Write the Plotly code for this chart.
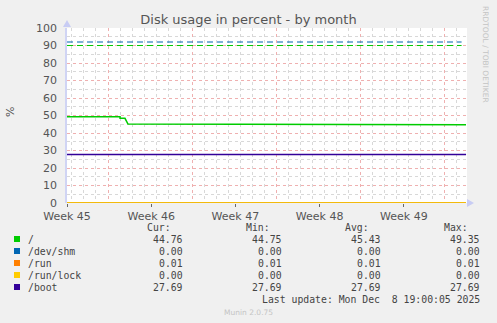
import plotly.graph_objects as go

# ---------------- data ----------------
week_labels = ["Week 45", "Week 46", "Week 47", "Week 48", "Week 49"]
week_pos = [0, 7, 14, 21, 28]          # days from left edge

root_x = [0, 4.41, 4.41, 4.82, 5.07, 7.4, 7.4, 33.17]
root_y = [49.35, 49.35, 48.4, 48.4, 45.1, 45.1, 44.76, 44.76]

flat_x = [0, 33.17]
shm_y = [0.00, 0.00]
run_y = [0.01, 0.01]
runlock_y = [0.00, 0.00]
boot_y = [27.69, 27.69]

warn_x = [0, 32.8]
shm_warn = [92, 92]
root_warn = [90, 90]

names = ["/", "/dev/shm", "/run", "/run/lock", "/boot"]
colors = ["#00CC00", "#0066B3", "#FF8000", "#FFCC00", "#330099"]
cur = ["44.76", "0.00", "0.01", "0.00", "27.69"]
mins = ["44.75", "0.00", "0.01", "0.00", "27.69"]
avgs = ["45.43", "0.00", "0.01", "0.00", "27.69"]
maxs = ["49.35", "0.00", "0.01", "0.00", "27.69"]

# ---------------- layout constants ----------------
W, H = 497, 323
L, R, T, B = 67, 467, 28, 203
XMAX = 33.25

def px(x):
    return (x - L) / (R - L)

def py(y):
    return (B - y) / (B - T)

fig = go.Figure()

# warning lines
fig.add_trace(go.Scatter(x=warn_x, y=shm_warn, mode="lines",
                         line=dict(color="#0066B3", width=1.2, dash="6px,4px"),
                         hoverinfo="skip", showlegend=False))
fig.add_trace(go.Scatter(x=warn_x, y=root_warn, mode="lines",
                         line=dict(color="#00CC00", width=1.2, dash="6px,4px"),
                         hoverinfo="skip", showlegend=False))

series = [(root_x, root_y), (flat_x, shm_y), (flat_x, run_y), (flat_x, runlock_y), (flat_x, boot_y)]
for (xs, ys), c, n in zip(series, colors, names):
    fig.add_trace(go.Scatter(x=xs, y=ys, mode="lines", name=n,
                             line=dict(color=c, width=1.5), showlegend=False,
                             cliponaxis=False))

# invisible trace for label axis
fig.add_trace(go.Scatter(x=[0], y=[0], xaxis="x2", mode="markers",
                         marker=dict(opacity=0), hoverinfo="skip", showlegend=False))

tickfont = dict(family="DejaVu Sans", size=11, color="#555555")
fig.update_layout(
    width=W, height=H,
    margin=dict(l=L, r=W - R, t=T, b=H - B, pad=0),
    paper_bgcolor="#F0F0F0", plot_bgcolor="#FFFFFF",
    title=dict(text="Disk usage in percent - by month", x=0.5, xanchor="center",
               y=1 - 19 / H, yanchor="middle",
               font=dict(family="DejaVu Sans", size=13, color="#555555")),
    xaxis=dict(range=[0, XMAX], tickmode="linear", tick0=3.41, dtick=7,
               showticklabels=False, ticks="",
               showgrid=True, gridcolor="#EFB0B0", griddash="dot", gridwidth=1,
               minor=dict(tickmode="linear", tick0=0.41, dtick=1, showgrid=True,
                          gridcolor="#D8D8D8", griddash="dot", gridwidth=1),
               showline=False, zeroline=False, fixedrange=True),
    xaxis2=dict(range=[0, XMAX], overlaying="x", side="bottom", anchor="y",
                tickmode="array", tickvals=week_pos, ticktext=week_labels,
                tickfont=tickfont, ticks="outside", ticklen=3, tickcolor="#666666",
                showgrid=False, zeroline=False, showline=False),
    yaxis=dict(range=[0, 100], tickmode="linear", tick0=0, dtick=10,
               tickfont=tickfont, ticks="", ticklabelstandoff=6,
               showgrid=True, gridcolor="#EFB0B0", griddash="dot", gridwidth=1,
               minor=dict(tickmode="linear", tick0=0, dtick=5, showgrid=True,
                          gridcolor="#D8D8D8", griddash="dot", gridwidth=1),
               showline=True, linecolor="#D0D4F4", linewidth=1.5,
               zeroline=False, fixedrange=True),
    showlegend=False,
)

ann = []
def note(text, x, y, font, xa="center", ya="middle", angle=0):
    ann.append(dict(text=text, x=px(x), y=py(y), xref="paper", yref="paper",
                    xanchor=xa, yanchor=ya, showarrow=False, textangle=angle,
                    font=font))

grey = dict(family="DejaVu Sans", size=11, color="#555555")
note("%", 10, 112, grey, angle=-90)
note("RRDTOOL / TOBI OETIKER", 486, 54,
     dict(family="DejaVu Sans", size=7.5, color="#C4C4C4"), angle=90)

shapes = []
# axis arrows
arrow_col = "#C8CCF4"
shapes.append(dict(type="path", xref="paper", yref="paper",
                   path=f"M {px(63)} {py(27)} L {px(71)} {py(27)} L {px(67)} {py(20)} Z",
                   fillcolor=arrow_col, line=dict(width=0)))
shapes.append(dict(type="path", xref="paper", yref="paper",
                   path=f"M {px(467)} {py(199)} L {px(467)} {py(207)} L {px(474)} {py(203)} Z",
                   fillcolor=arrow_col, line=dict(width=0)))

mono = dict(family="DejaVu Sans Mono", size=9.8, color="#444444")
for txt, xr in [("Cur:", 173), ("Min:", 272), ("Avg:", 371), ("Max:", 470)]:
    note(txt, xr, 227, mono, xa="right")
for i, n in enumerate(names):
    yy = 239 + 12 * i
    shapes.append(dict(type="rect", xref="paper", yref="paper",
                       x0=px(14), x1=px(20), y0=py(yy + 3), y1=py(yy - 3),
                       fillcolor=colors[i], line=dict(width=0)))
    note(n, 26, yy, mono, xa="left")
    for vals, xr in [(cur, 185), (mins, 284), (avgs, 383), (maxs, 482)]:
        note(vals[i], xr, yy, mono, xa="right")

note("Last update: Mon Dec  8 19:00:05 2025".replace(" ", "&nbsp;"), 482, 299, mono, xa="right")
note("Munin 2.0.75", 248, 312, dict(family="DejaVu Sans", size=7.5, color="#C4C4C4"))

fig.update_layout(annotations=ann, shapes=shapes)
fig.write_html("out.html")
